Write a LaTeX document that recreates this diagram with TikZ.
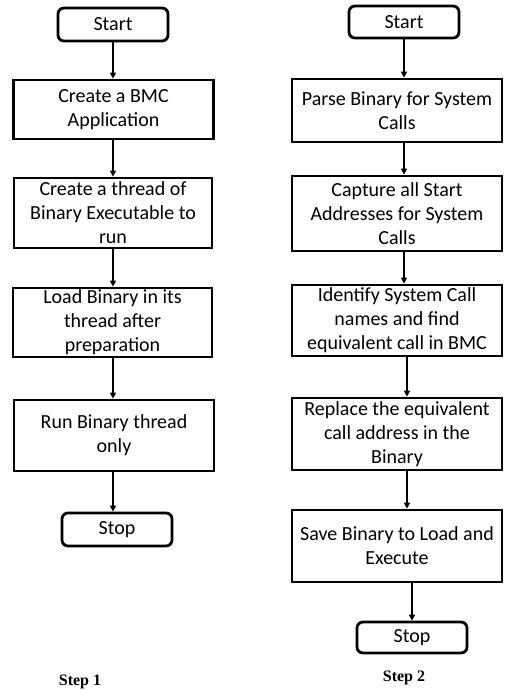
\documentclass[tikz,border=0pt]{standalone}
\usepackage{fontspec}
\setmainfont{Carlito}
\newfontfamily\stepfont{Liberation Serif}
\usetikzlibrary{arrows.meta}
\begin{document}
\begin{tikzpicture}[x=1pt,y=-1pt,
  every node/.style={font=\fontsize{20}{24}\selectfont, align=center, inner sep=0pt},
  procbox/.style={draw, line width=2.8pt, minimum width=#1},
  procbox/.default=200pt,
  termbox/.style={draw, line width=2.8pt, rounded corners=6pt, minimum width=110pt},
  arr/.style={line width=1.6pt, -{Triangle[width=6pt,length=6pt]}},
  steplabel/.style={font=\stepfont\bfseries\fontsize{16}{19}\selectfont}]
\useasboundingbox (0,0) rectangle (504,691);
% left column
\node[termbox, minimum height=33pt] (s1) at (113,24.5) {Start};
\node[procbox=200pt, minimum height=59pt] (a1) at (113.5,109.5) {Create a BMC\\Application};
\node[procbox=198pt, minimum height=70pt] (a2) at (113,213) {Create a thread of\\Binary Executable to\\run};
\node[procbox=199pt, minimum height=69pt] (a3) at (112.5,322.5) {Load Binary in its\\thread after\\preparation};
\node[procbox=200pt, minimum height=71pt] (a4) at (114,435.5) {Run Binary thread\\only};
\node[termbox, minimum height=33pt] (e1) at (117,529.5) {Stop};
\node[steplabel] (l1) at (80,682) {Step 1};
\draw[arr] (s1.south) -- (s1.south |- a1.north);
\draw[arr] (s1.south |- a1.south) -- (s1.south |- a2.north);
\draw[arr] (s1.south |- a2.south) -- (s1.south |- a3.north);
\draw[arr] (s1.south |- a3.south) -- (s1.south |- a4.north);
\draw[arr] (s1.south |- a4.south) -- (s1.south |- e1.north);
% right column
\node[termbox, minimum height=32pt] (s2) at (404,22) {Start};
\node[procbox=210pt, minimum height=63pt] (b1) at (397,110.5) {Parse Binary for System\\Calls};
\node[procbox=210pt, minimum height=75pt] (b2) at (397,213.5) {Capture all Start\\Addresses for System\\Calls};
\node[procbox=210pt, minimum height=71pt] (b3) at (397,320.5) {Identify System Call\\names and find\\equivalent call in BMC};
\node[procbox=210pt, minimum height=72pt] (b4) at (397,434) {Replace the equivalent\\call address in the\\Binary};
\node[procbox=210pt, minimum height=72pt] (b5) at (397,546) {Save Binary to Load and\\Execute};
\node[termbox, minimum height=31pt] (e2) at (412,637.5) {Stop};
\node[steplabel] (l2) at (404,678) {Step 2};
\draw[arr] (s2.south) -- (s2.south |- b1.north);
\draw[arr] (s2.south |- b1.south) -- (s2.south |- b2.north);
\draw[arr] (s2.south |- b2.south) -- (s2.south |- b3.north);
\draw[arr] ([xshift=3pt]s2.south |- b3.south) -- ([xshift=3pt]s2.south |- b4.north);
\draw[arr] ([xshift=3pt]s2.south |- b4.south) -- ([xshift=3pt]s2.south |- b5.north);
\draw[arr] (e2.north |- b5.south) -- (e2.north);
\end{tikzpicture}
\end{document}
